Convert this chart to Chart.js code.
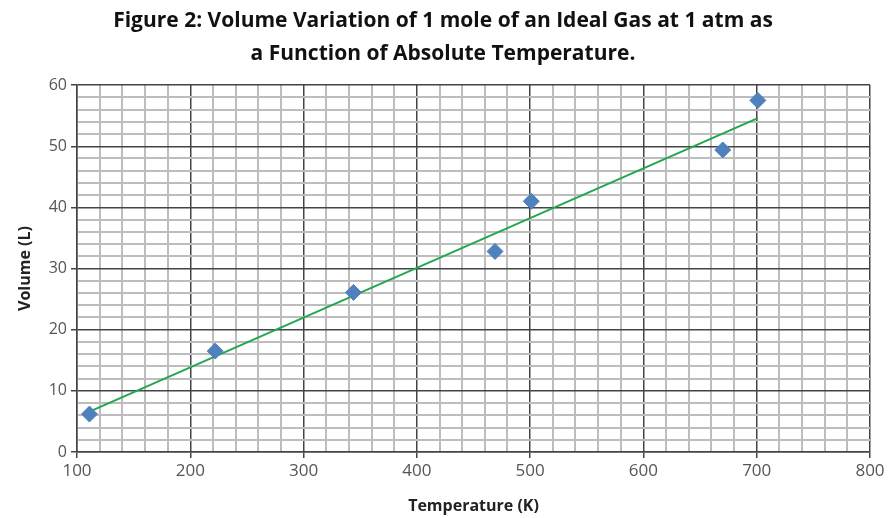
<!DOCTYPE html>
<html>
<head>
<meta charset="utf-8">
<script src="https://cdn.jsdelivr.net/npm/chart.js@4/dist/chart.umd.min.js"></script>
<style>
  html, body { margin: 0; padding: 0; background: #fff; }
  #wrap { width: 896px; height: 518px; }
</style>
</head>
<body>
<div id="wrap"><canvas id="gasChart"></canvas></div>
<script>
// measured points (temperature K, volume L)
const temperatures = [111, 222, 344, 469, 501, 670, 701];
const volumes = [6.2, 16.5, 26.1, 32.8, 41.0, 49.4, 57.5];
// linear trendline ends
const trendTemps = [111, 701];
const trendVolumes = [6.6, 54.6];

const points = temperatures.map((t, i) => ({ x: t, y: volumes[i] }));
const trend = trendTemps.map((t, i) => ({ x: t, y: trendVolumes[i] }));

const majorX = (v) => v % 100 === 0;
const majorY = (v) => v % 10 === 0;

new Chart(document.getElementById("gasChart"), {
  type: "scatter",
  data: {
    datasets: [
      {
        label: "Trend",
        data: trend,
        showLine: true,
        borderColor: "#22a650",
        borderWidth: 2,
        pointRadius: 0,
        order: 2,
      },
      {
        label: "Volume",
        data: points,
        backgroundColor: "#4f81bd",
        borderColor: "#4f81bd",
        pointStyle: "rectRot",
        pointRadius: 8,
        order: 1,
      },
    ],
  },
  options: {
    responsive: true,
    maintainAspectRatio: false,
    animation: false,
    layout: { padding: { left: 16, right: 26, top: 0, bottom: 0 } },
    plugins: {
      legend: { display: false },
      tooltip: { enabled: false },
      title: {
        display: true,
        text: [
          "Figure 2: Volume Variation of 1 mole of an Ideal Gas at 1 atm as",
          "a Function of Absolute Temperature.",
        ],
        color: "#111",
        font: { family: "Open Sans", size: 21, weight: "bold", lineHeight: 1.55 },
        padding: { top: 5, bottom: 15 },
      },
    },
    scales: {
      x: {
        type: "linear",
        min: 100,
        max: 800,
        afterFit: (scale) => { scale.height = 66; },
        ticks: {
          stepSize: 20,
          autoSkip: false,
          maxRotation: 0,
          color: "#555",
          font: { family: "Open Sans", size: 17 },
          padding: 3,
          callback: (v) => (majorX(v) ? v : ""),
        },
        grid: {
          color: (c) => (majorX(c.tick.value) ? "#444" : "#bdbdbd"),
          lineWidth: (c) => (majorX(c.tick.value) ? 1.5 : 2),
          tickColor: (c) => (majorX(c.tick.value) ? "#444" : "rgba(0,0,0,0)"),
          tickLength: 6,
        },
        border: { color: "#444", width: 1.5 },
        title: {
          display: true,
          text: "Temperature (K)",
          color: "#222",
          font: { family: "Open Sans", size: 16, weight: "bold" },
          padding: { top: 4, bottom: 2 },
        },
      },
      y: {
        min: 0,
        max: 60,
        afterFit: (scale) => { scale.width = 61; },
        ticks: {
          stepSize: 2,
          autoSkip: false,
          color: "#555",
          font: { family: "Open Sans", size: 16 },
          padding: 4,
          callback: (v) => (majorY(v) ? v : ""),
        },
        grid: {
          color: (c) => (majorY(c.tick.value) ? "#444" : "#bdbdbd"),
          lineWidth: (c) => (majorY(c.tick.value) ? 1.5 : 2),
          tickColor: (c) => (majorY(c.tick.value) ? "#444" : "rgba(0,0,0,0)"),
          tickLength: 6,
        },
        border: { color: "#444", width: 1.5 },
        title: {
          display: true,
          text: "Volume (L)",
          color: "#222",
          font: { family: "Open Sans", size: 16, weight: "bold" },
          padding: { top: 0, bottom: 6 },
        },
      },
    },
  },
});
</script>
</body>
</html>
